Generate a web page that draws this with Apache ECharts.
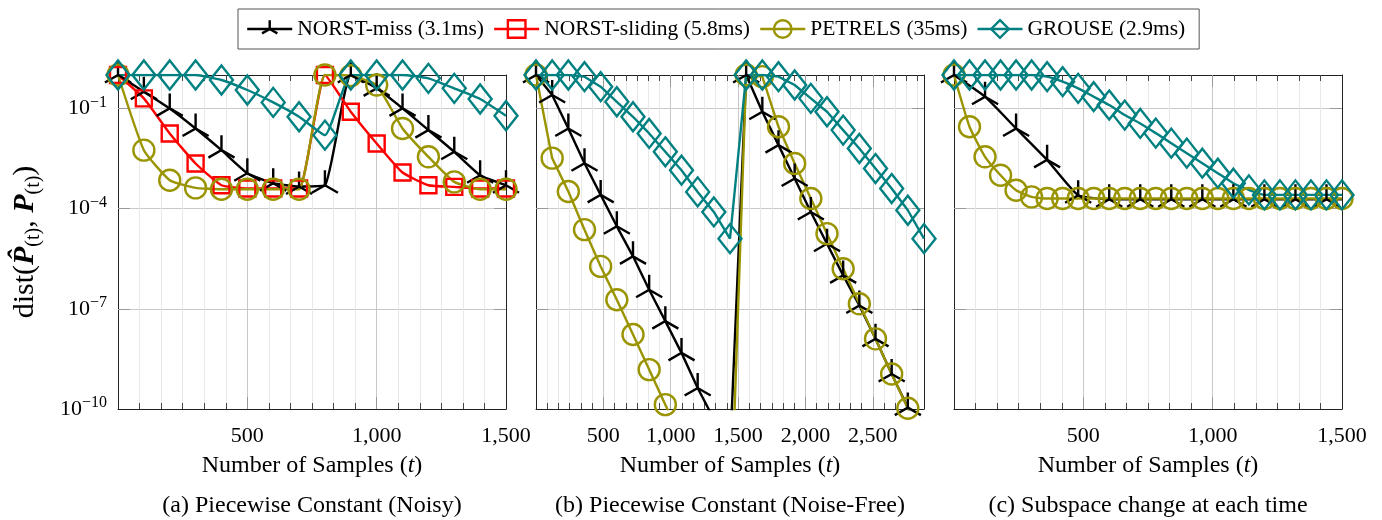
<!DOCTYPE html>
<html><head><meta charset="utf-8">
<script src="https://cdn.jsdelivr.net/npm/echarts@6/dist/echarts.min.js"></script>
<style>html,body{margin:0;padding:0;background:#fff}#c{width:1382px;height:520px}</style>
</head><body><div id="c"></div>
<script>
// ---------------- data ----------------
const seriesNames = ['NORST-miss (3.1ms)', 'NORST-sliding (5.8ms)', 'PETRELS (35ms)', 'GROUSE (2.9ms)'];
const captions = ['(a) Piecewise Constant (Noisy)', '(b) Piecewise Constant (Noise-Free)', '(c) Subspace change at each time'];
const xTitle = 'Number of Samples';
const yTickExponents = [-10, -7, -4, -1];
const xMajorTicksA = [500, 1000, 1500];
const xMajorTicksB = [500, 1000, 1500, 2000, 2500];
const xMajorTicksC = [500, 1000, 1500];
const xMaxA = 1500, xMaxB = 2880, xMaxC = 1500;

// (a) Piecewise Constant (Noisy)
const tA = [0,100,200,300,400,500,600,700,800,900,1000,1100,1200,1300,1400,1500];
const aMiss    = [1, 0.316, 0.1, 0.0251, 0.00562, 0.00115, 5.75e-4, 4.57e-4, 5.01e-4, 1, 0.398, 0.1, 0.0224, 0.00501, 0.001, 5.01e-4];
const aSliding = [1, 0.2, 0.0178, 0.00224, 5.01e-4, 3.98e-4, 3.98e-4, 3.98e-4, 1, 0.0794, 0.00891, 0.0012, 5.01e-4, 4.47e-4, 3.98e-4, 3.98e-4];
const aPetrels = [1, 0.00562, 7.08e-4, 4.17e-4, 3.8e-4, 3.8e-4, 3.8e-4, 3.8e-4, 1, 0.95, 0.5, 0.0251, 0.00355, 6.31e-4, 3.8e-4, 3.8e-4];
const aGrouse  = [1, 1, 1, 1, 0.708, 0.355, 0.151, 0.0562, 0.0158, 1, 1, 1, 0.794, 0.398, 0.191, 0.0603];

// (b) Piecewise Constant (Noise-Free)
const tB = [0,120,240,360,480,600,720,840,960,1080,1200,1320,1440,1560,1680,1800,1920,2040,2160,2280,2400,2520,2640,2760,2880];
const bMiss    = [1, 0.251, 0.0251, 2.29e-3, 2.57e-4, 2.95e-5, 3.72e-6, 3.72e-7, 4.27e-8, 4.79e-9, 4.27e-10, 5.01e-11, 5.01e-12,
                  1, 0.0794, 7.94e-3, 7.94e-4, 7.94e-5, 8.91e-6, 1e-6, 1.26e-7, 1.26e-8, 1.12e-9, 1.1e-10, 1e-11];
const bPetrels = [1, 3.24e-3, 3.24e-4, 2.34e-5, 1.86e-6, 1.86e-7, 1.7e-8, 1.51e-9, 1.35e-10, 1.26e-11, 1e-12, 1e-13, 1e-14,
                  1, 0.891, 0.0282, 2.24e-3, 2e-4, 1.78e-5, 1.58e-6, 1.41e-7, 1.26e-8, 1.12e-9, 1.05e-10, 1e-11];
const bGrouse  = [1, 1, 1, 0.891, 0.447, 0.158, 0.0562, 0.0178, 5.01e-3, 1.41e-3, 3.16e-4, 7.94e-5, 1.26e-5,
                  1, 1, 0.891, 0.501, 0.2, 0.0794, 0.0224, 6.31e-3, 1.58e-3, 3.98e-4, 8.91e-5, 1.26e-5];

// (c) Subspace change at each time
const tC = [0,60,120,180,240,300,360,420,480,540,600,660,720,780,840,900,960,1020,1080,1140,1200,1260,1320,1380,1440,1500];
const tCMiss = [0,120,240,360,480,600,720,840,960,1080,1200,1320,1440,1500];
const cMiss    = [1, 0.224, 0.0251, 2.88e-3, 2.51e-4, 1.91e-4, 1.91e-4, 1.91e-4, 1.91e-4, 1.91e-4, 1.91e-4, 1.91e-4, 1.91e-4, 1.91e-4];
const cPetrels = [1, 0.0282, 3.55e-3, 1e-3, 3.55e-4, 2.24e-4, 2e-4, 2e-4, 2e-4, 2e-4, 2e-4, 2e-4, 2e-4, 2e-4, 2e-4, 2e-4, 2e-4, 2e-4, 2e-4, 2e-4, 2e-4, 2e-4, 2e-4, 2e-4, 2e-4, 2e-4];
const cGrouse  = [1, 1, 1, 1, 1, 1, 0.891, 0.631, 0.398, 0.224, 0.126, 0.0631, 0.0355, 0.0182, 9.12e-3, 4.57e-3, 2.29e-3, 1.15e-3, 5.75e-4, 3.63e-4, 2.57e-4, 2.57e-4, 2.57e-4, 2.57e-4, 2.57e-4, 2.57e-4];

// ---------------- styling ----------------
const FONT = '"Liberation Serif", "Times New Roman", serif';
const triPath = 'path://M-1,-1M1,1M0,-1L0,0L-0.87,0.5M0,0L0.87,0.5';
const kinds = {
  miss:    { name: seriesNames[0], color: '#000000', symbol: triPath,   size: [30, 30] },
  sliding: { name: seriesNames[1], color: '#ff0000', symbol: 'rect',    size: 16 },
  petrels: { name: seriesNames[2], color: '#9a9400', symbol: 'circle',  size: 21 },
  grouse:  { name: seriesNames[3], color: '#008080', symbol: 'diamond', size: [23, 29] }
};
const MAJOR_GRID = '#c8c8c8', MINOR_GRID = '#e8e8e8', FRAME = '#222';
const LINE_W = 2.4;

const panels = [
  { left: 118, top: 75, width: 388, height: 334, xMax: xMaxA, majors: xMajorTicksA, yLabels: true, smooth: 0.15,
    series: [['miss', tA, aMiss], ['sliding', tA, aSliding], ['petrels', tA, aPetrels], ['grouse', tA, aGrouse]] },
  { left: 536, top: 75, width: 388, height: 334, xMax: xMaxB, majors: xMajorTicksB, yLabels: false, smooth: false,
    series: [['miss', tB, bMiss], ['petrels', tB, bPetrels], ['grouse', tB, bGrouse]] },
  { left: 954, top: 75, width: 388, height: 334, xMax: xMaxC, majors: xMajorTicksC, yLabels: false, smooth: 0.15,
    series: [['miss', tCMiss, cMiss], ['petrels', tC, cPetrels], ['grouse', tC, cGrouse]] }
];

const fmtThousands = v => String(v).replace(/\B(?=(\d{3})+(?!\d))/g, ',');

const grid = [], xAxis = [], yAxis = [], series = [], graphic = [];
panels.forEach((p, i) => {
  grid.push({ left: p.left, top: p.top, width: p.width, height: p.height, show: false });
  const inner = p.majors.filter(v => v > 0 && v < p.xMax);
  const minors = [];
  const step = 500 / 6;
  for (let k = 1; k * step < p.xMax - 1; k++) { if (k % 6 !== 0) minors.push(Math.round(k * step * 1000) / 1000); }
  const base = { type: 'value', gridIndex: i, min: 0, max: p.xMax, offset: 0 };
  // bottom major
  xAxis.push(Object.assign({}, base, {
    position: 'bottom',
    axisLine: { show: true, onZero: false, lineStyle: { color: FRAME, width: 1 } },
    axisTick: { show: true, inside: true, length: 12, customValues: inner, lineStyle: { color: '#999', width: 1 } },
    axisLabel: { show: true, customValues: p.majors, margin: 16, formatter: fmtThousands,
                 fontFamily: FONT, fontSize: 22, color: '#000' },
    splitLine: { show: true, lineStyle: { color: MAJOR_GRID, width: 1 } },
    name: xTitle + ' ({i|t})', nameLocation: 'middle', nameGap: 45,
    nameTextStyle: { fontFamily: FONT, fontSize: 24, color: '#000',
                     rich: { i: { fontFamily: FONT, fontSize: 24, fontStyle: 'italic', color: '#000' } } }
  }));
  // bottom minor
  xAxis.push(Object.assign({}, base, {
    position: 'bottom',
    axisLine: { show: false, onZero: false },
    axisTick: { show: true, inside: true, length: 6, customValues: minors, lineStyle: { color: '#444', width: 1 } },
    axisLabel: { show: false },
    splitLine: { show: true, lineStyle: { color: MINOR_GRID, width: 1 } }
  }));
  // top major
  xAxis.push(Object.assign({}, base, {
    position: 'top',
    axisLine: { show: true, onZero: false, lineStyle: { color: FRAME, width: 1 } },
    axisTick: { show: true, inside: true, length: 12, customValues: inner, lineStyle: { color: '#999', width: 1 } },
    axisLabel: { show: false }, splitLine: { show: false }
  }));
  // top minor
  xAxis.push(Object.assign({}, base, {
    position: 'top',
    axisLine: { show: false, onZero: false },
    axisTick: { show: true, inside: true, length: 6, customValues: minors, lineStyle: { color: '#444', width: 1 } },
    axisLabel: { show: false }, splitLine: { show: false }
  }));

  // data axis (log)
  yAxis.push({ type: 'log', logBase: 10, gridIndex: i, min: 1e-10, max: 1, show: false, position: 'left',
               axisLine: { onZero: false } });
  const innerY = yTickExponents.filter(e => e > -10 && e < 0);
  const yBase = { type: 'value', gridIndex: i, min: -10, max: 0, offset: 0 };
  yAxis.push(Object.assign({}, yBase, {
    position: 'left',
    axisLine: { show: true, onZero: false, lineStyle: { color: FRAME, width: 1 } },
    axisTick: { show: true, inside: true, length: 12, customValues: innerY, lineStyle: { color: '#999', width: 1 } },
    axisLabel: { show: p.yLabels, customValues: yTickExponents, margin: 11,
                 formatter: v => '{b|10}{s|\u2212' + Math.abs(v) + '}',
                 rich: { b: { fontFamily: FONT, fontSize: 22, lineHeight: 28, color: '#000' },
                         s: { fontFamily: FONT, fontSize: 16, lineHeight: 16, verticalAlign: 'top', color: '#000' } } },
    splitLine: { show: true, lineStyle: { color: MAJOR_GRID, width: 1 } },
    name: p.yLabels ? 'dist({P|P\u0302}{sub|(t)}{n|, }{P|P}{sub|(t)})' : '',
    nameLocation: 'middle', nameRotate: 90, nameGap: 74,
    nameTextStyle: { fontFamily: FONT, fontSize: 30, color: '#000', lineHeight: 38,
      rich: { P: { fontFamily: FONT, fontSize: 30, fontWeight: 'bold', fontStyle: 'italic', lineHeight: 38, color: '#000' },
              n: { fontFamily: FONT, fontSize: 30, lineHeight: 38, color: '#000' },
              sub: { fontFamily: FONT, fontSize: 20, lineHeight: 20, verticalAlign: 'bottom', color: '#000' } } }
  }));
  yAxis.push(Object.assign({}, yBase, {
    position: 'right',
    axisLine: { show: true, onZero: false, lineStyle: { color: FRAME, width: 1 } },
    axisTick: { show: true, inside: true, length: 12, customValues: innerY, lineStyle: { color: '#999', width: 1 } },
    axisLabel: { show: false }, splitLine: { show: false }
  }));

  p.series.forEach(([kind, t, v]) => {
    const k = kinds[kind];
    const data = t.map((x, j) => [x, v[j]]);
    if (i === 2 && kind === 'miss') {
      const last = data.length - 1;
      data[last] = { value: data[last], symbol: 'none' };
    }
    series.push({
      type: 'line', name: k.name, xAxisIndex: 4 * i, yAxisIndex: 3 * i,
      data, symbol: k.symbol, symbolSize: k.size, showAllSymbol: true, smooth: p.smooth, clip: true,
      lineStyle: { color: k.color, width: LINE_W },
      itemStyle: { color: 'rgba(0,0,0,0)', borderColor: k.color, borderWidth: LINE_W },
      emphasis: { disabled: true }, z: 3
    });
  });

  graphic.push({ type: 'text', x: p.left + p.width / 2, y: 506, silent: true,
    style: { text: captions[i], align: 'center', verticalAlign: 'middle', fontFamily: FONT, fontSize: 24, fill: '#000' } });
});

const legendOrder = ['miss', 'sliding', 'petrels', 'grouse'];
const option = {
  animation: false,
  backgroundColor: '#fff',
  legend: {
    left: 238, top: 9, padding: [9, 14, 9, 8], itemGap: 9, itemWidth: 45, itemHeight: 22,
    borderColor: '#555', borderWidth: 1, selectedMode: false,
    textStyle: { fontFamily: FONT, fontSize: 21.5, color: '#000' },
    data: legendOrder.map(key => ({ name: kinds[key].name,
      itemStyle: { color: 'rgba(0,0,0,0)', borderColor: kinds[key].color, borderWidth: LINE_W },
      lineStyle: { color: kinds[key].color, width: LINE_W } }))
  },
  grid, xAxis, yAxis, series, graphic
};

const chart = echarts.init(document.getElementById('c'), null, { renderer: 'canvas' });
chart.setOption(option);
</script>
</body></html>
